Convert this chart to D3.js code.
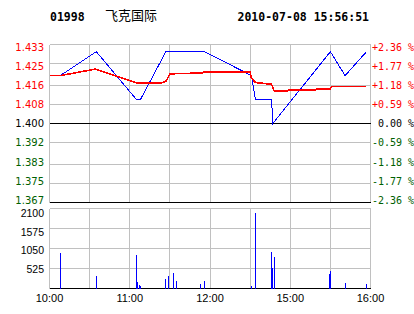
<!DOCTYPE html>
<html>
<head>
<meta charset="utf-8">
<script src="https://cdn.jsdelivr.net/npm/d3@7"></script>
<style>
body { margin: 0; background: #fff; }
text { white-space: pre; }
</style>
</head>
<body>
<svg width="414" height="314"></svg>
<script>
var stockCode = "01998",
    stockName = "飞克国际",
    stamp = "2010-07-08 15:56:51";

var priceTicks = ["1.433", "1.425", "1.416", "1.408", "1.400", "1.392", "1.383", "1.375", "1.367"];
var pctTicks = ["+2.36 %", "+1.77 %", "+1.18 %", "+0.59 %", " 0.00 %", "-0.59 %", "-1.18 %", "-1.77 %", "-2.36 %"];
var volTicks = [2100, 1575, 1050, 525];
var gridTimes = ["10:00", "10:30", "11:00", "11:30", "12:00", "12:30", "15:00", "15:30", "16:00"];
var timeLabels = ["10:00", "11:00", "12:00", "15:00", "16:00"];

// trade price (blue)
var priceTimes = ["10:08", "10:35", "11:05", "11:08", "11:27", "11:56", "14:31", "14:34", "14:46", "14:47", "15:30", "15:41", "15:57"];
var priceValues = [1.42, 1.43, 1.41, 1.41, 1.43, 1.43, 1.42, 1.41, 1.41, 1.40, 1.43, 1.42, 1.43];

// average price (red)
var avgTimes = ["10:00", "10:09", "10:34", "11:06", "11:23", "11:27", "11:30", "11:34", "11:54", "11:55", "12:30",
                "14:31", "14:34", "14:46", "14:48", "14:58", "14:59", "15:19", "15:20", "15:30", "15:31", "15:57"];
var avgValues = [1.4201, 1.4201, 1.4227, 1.4168, 1.4168, 1.4176, 1.4206, 1.4208, 1.4211, 1.4214, 1.4214,
                 1.4190, 1.4171, 1.4164, 1.4136, 1.4136, 1.4141, 1.4141, 1.4145, 1.4145, 1.4155, 1.4155];

// volume bars
var volTimes = ["10:08", "10:35", "11:05", "11:06", "11:07", "11:08", "11:27", "11:29", "11:33", "11:35", "11:53", "11:56",
                "14:31", "14:34", "14:46", "14:47", "14:48", "15:29", "15:30", "15:41", "15:57"];
var volValues = [920, 330, 890, 176, 88, 60, 248, 330, 409, 203, 115, 195,
                 60, 1980, 965, 540, 832, 388, 460, 140, 114];

var red = "#ff0000", green = "#006000", grid = "#c0c0c0";

// minutes since open, lunch break removed (10:00-12:30, 14:30-16:00)
function tIdx(s) {
  var p = s.split(":"), m = +p[0] * 60 + +p[1];
  return m <= 750 ? m - 600 : m - 870 + 150;
}

var svg = d3.select("svg");

var x = d3.scaleLinear().domain([0, 240]).range([49.5, 370.5]);
var y = d3.scaleLinear().domain([1.367, 1.433]).range([202.5, 44.5]);
var v = d3.scaleLinear().domain([0, 2100]).range([288.5, 208.5]);
var labelY = d3.scaleLinear().domain([0, 8]).range([51, 203.7]);
var volLabelY = d3.scaleLinear().domain([0, 3]).range([216.7, 273.3]);

function crisp(val) { return Math.floor(val) + 0.5; }

// header
svg.append("text").attr("x", 50).attr("y", 20.5)
  .style("font", "bold 11.5px 'DejaVu Sans Mono'").text(stockCode);
svg.append("text").attr("x", 105).attr("y", 20)
  .style("font", "13px 'Noto Sans CJK SC'").text(stockName);
svg.append("text").attr("x", 237.5).attr("y", 20.5)
  .style("font", "bold 11.5px 'DejaVu Sans Mono'").text(stamp);

// price panel grid
var pg = svg.append("g").attr("shape-rendering", "crispEdges");
pg.selectAll(".vg").data(gridTimes).enter().append("line")
  .attr("x1", function(d) { return crisp(x(tIdx(d))); })
  .attr("x2", function(d) { return crisp(x(tIdx(d))); })
  .attr("y1", 44.5).attr("y2", 202.5)
  .attr("stroke", grid);
pg.selectAll(".hg").data(priceTicks).enter().append("line")
  .attr("x1", 49.5).attr("x2", 370.5)
  .attr("y1", function(d) { return crisp(y(+d)); })
  .attr("y2", function(d) { return crisp(y(+d)); })
  .attr("stroke", function(d, i) { return i == 4 || i == 8 ? "#000" : grid; })
  .attr("stroke-width", function(d, i) { return i == 8 ? 1.5 : 1; });

// volume panel grid
var vg = svg.append("g").attr("shape-rendering", "crispEdges");
vg.selectAll(".vg").data(gridTimes).enter().append("line")
  .attr("x1", function(d) { return crisp(x(tIdx(d))); })
  .attr("x2", function(d) { return crisp(x(tIdx(d))); })
  .attr("y1", 208.5).attr("y2", 288.5)
  .attr("stroke", grid);
vg.selectAll(".hg").data(volTicks.concat([0])).enter().append("line")
  .attr("x1", 49.5).attr("x2", 370.5)
  .attr("y1", function(d) { return crisp(v(d)); })
  .attr("y2", function(d) { return crisp(v(d)); })
  .attr("stroke", function(d) { return d == 0 ? "#000" : grid; })
  .attr("stroke-width", function(d) { return d == 0 ? 1.5 : 1; });

// volume bars
svg.append("g").attr("shape-rendering", "crispEdges")
  .selectAll("rect").data(volTimes).enter().append("rect")
  .attr("x", function(d) { return Math.floor(x(tIdx(d))); })
  .attr("width", 1)
  .attr("y", function(d, i) { return v(volValues[i]); })
  .attr("height", function(d, i) { return v(0) - v(volValues[i]); })
  .attr("fill", "#0000ff");

// lines
var priceLine = d3.line()
  .x(function(d) { return x(tIdx(d.t)); })
  .y(function(d) { return y(d.p); });

svg.append("path")
  .datum(priceTimes.map(function(t, i) { return {t: t, p: priceValues[i]}; }))
  .attr("d", priceLine)
  .attr("fill", "none").attr("stroke", "#0000ff").attr("stroke-width", 1)
  .attr("shape-rendering", "crispEdges");

svg.append("path")
  .datum(avgTimes.map(function(t, i) { return {t: t, p: avgValues[i]}; }))
  .attr("d", priceLine)
  .attr("fill", "none").attr("stroke", red).attr("stroke-width", 1.6)
  .attr("shape-rendering", "crispEdges");

// left price labels
svg.append("g").selectAll("text").data(priceTicks).enter().append("text")
  .attr("x", 44).attr("y", function(d, i) { return labelY(i); })
  .attr("text-anchor", "end")
  .style("font", "10px 'DejaVu Sans'")
  .attr("fill", function(d, i) { return i < 4 ? red : i == 4 ? "#000" : green; })
  .text(function(d) { return d; });

// right percent labels
svg.append("g").selectAll("text").data(pctTicks).enter().append("text")
  .attr("x", 372).attr("y", function(d, i) { return labelY(i); })
  .style("font", "10px 'DejaVu Sans Mono'")
  .attr("fill", function(d, i) { return i < 4 ? red : i == 4 ? "#000" : green; })
  .text(function(d) { return d; });

// volume labels
svg.append("g").selectAll("text").data(volTicks).enter().append("text")
  .attr("x", 44).attr("y", function(d, i) { return volLabelY(i); })
  .attr("text-anchor", "end")
  .style("font", "10.5px 'Liberation Sans'")
  .text(function(d) { return d; });

// time labels
svg.append("g").selectAll("text").data(timeLabels).enter().append("text")
  .attr("x", function(d) { return x(tIdx(d)); })
  .attr("y", 301.7)
  .attr("text-anchor", "middle")
  .style("font", "11px 'Liberation Sans'")
  .text(function(d) { return d; });
</script>
</body>
</html>
